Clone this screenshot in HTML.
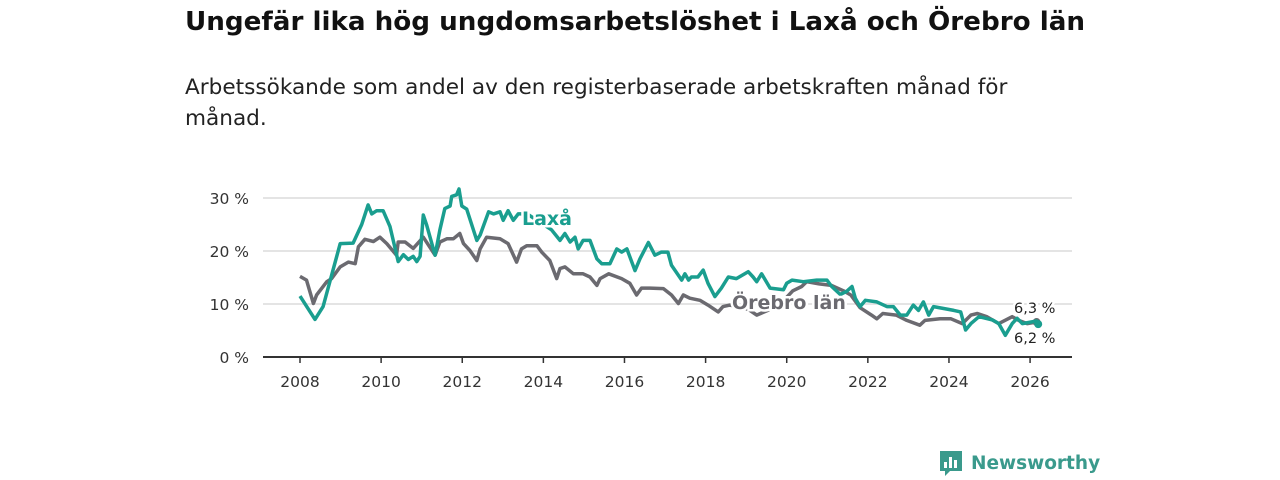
<!DOCTYPE html>
<html><head><meta charset="utf-8"><style>
body{margin:0;width:1280px;height:480px;background:#fff;font-family:"DejaVu Sans","Liberation Sans",sans-serif;overflow:hidden;position:relative}
#title{position:absolute;left:185px;top:7px;font-size:26.2px;font-weight:bold;color:#111;white-space:nowrap}
#sub{position:absolute;left:185px;top:72px;width:880px;font-size:21.6px;line-height:31px;color:#222}
#logo{position:absolute;left:938px;top:449px;display:flex;align-items:center;gap:7px;color:#3a9a8c;font-size:18.5px;font-weight:bold}
</style></head><body>
<div id="title">Ungefär lika hög ungdomsarbetslöshet i Laxå och Örebro län</div>
<div id="sub">Arbetssökande som andel av den registerbaserade arbetskraften månad för månad.</div>
<svg id="chart" width="1280" height="480" style="position:absolute;left:0;top:0"></svg>
<div id="logo"><svg width="26" height="28" viewBox="0 0 26 28"><path d="M2 2h22v20H12l-5 5v-5H2z" fill="#3a9a8c"/><rect x="6" y="13" width="3" height="6" fill="#fff"/><rect x="11" y="8" width="3" height="11" fill="#fff"/><rect x="16" y="11" width="3" height="8" fill="#fff"/></svg><span>Newsworthy</span></div>
<script>
const laxaT=[2008.0,2008.37,2008.57,2008.99,2009.31,2009.52,2009.68,2009.77,2009.89,2010.05,2010.22,2010.42,2010.55,2010.67,2010.79,2010.88,2010.96,2011.04,2011.12,2011.33,2011.45,2011.57,2011.7,2011.74,2011.86,2011.92,2011.99,2012.11,2012.36,2012.44,2012.65,2012.77,2012.93,2013.01,2013.13,2013.26,2013.38,2013.6,2013.9,2014.2,2014.41,2014.53,2014.66,2014.78,2014.86,2014.98,2015.15,2015.32,2015.44,2015.64,2015.81,2015.93,2016.06,2016.26,2016.38,2016.59,2016.75,2016.91,2017.07,2017.16,2017.41,2017.49,2017.58,2017.65,2017.81,2017.94,2018.06,2018.23,2018.39,2018.56,2018.76,2019.05,2019.17,2019.26,2019.38,2019.59,2019.92,2020.0,2020.13,2020.41,2020.74,2020.99,2021.11,2021.32,2021.48,2021.61,2021.69,2021.81,2021.94,2022.22,2022.47,2022.63,2022.8,2022.96,2023.12,2023.25,2023.37,2023.5,2023.62,2024.12,2024.29,2024.41,2024.54,2024.74,2025.07,2025.23,2025.39,2025.56,2025.68,2025.81,2026.16,2026.2];
const laxaV=[11.5,7.1,9.5,21.4,21.5,25,28.7,27,27.6,27.6,24.6,18,19.3,18.4,19,18,19,26.8,25,19.2,24,28,28.5,30.3,30.6,31.7,28.5,27.9,22,23,27.4,27,27.4,25.8,27.6,25.8,27,27,25.5,24,22,23.3,21.7,22.6,20.4,22,22,18.5,17.6,17.6,20.4,19.8,20.4,16.3,18.5,21.6,19.2,19.8,19.8,17.3,14.5,15.7,14.5,15.1,15.1,16.4,13.9,11.4,13,15.1,14.8,16.1,15.1,14.2,15.7,13,12.7,13.9,14.5,14.2,14.5,14.5,13.3,11.8,12.4,13.3,11.1,9.5,10.7,10.4,9.5,9.5,7.9,7.9,9.8,8.8,10.4,7.9,9.5,8.8,8.5,5.1,6.3,7.6,7.0,6.3,4.1,6.3,7.3,6.3,6.8,6.2];
const oreT=[2008.0,2008.16,2008.33,2008.41,2008.66,2008.78,2008.99,2009.19,2009.36,2009.44,2009.6,2009.81,2009.97,2010.14,2010.38,2010.42,2010.59,2010.79,2011.04,2011.33,2011.45,2011.62,2011.78,2011.94,2012.03,2012.19,2012.36,2012.44,2012.6,2012.93,2013.13,2013.34,2013.46,2013.59,2013.84,2013.96,2014.16,2014.33,2014.41,2014.53,2014.74,2014.98,2015.15,2015.32,2015.4,2015.61,2015.93,2016.13,2016.3,2016.42,2016.63,2016.96,2017.16,2017.33,2017.45,2017.61,2017.86,2018.06,2018.31,2018.43,2018.6,2018.8,2019.05,2019.26,2019.6,2019.9,2020.15,2020.37,2020.49,2020.8,2021.1,2021.4,2021.58,2021.81,2022.09,2022.22,2022.37,2022.7,2022.96,2023.28,2023.41,2023.78,2024.05,2024.33,2024.54,2024.7,2024.93,2025.23,2025.56,2025.72,2025.93,2026.16];
const oreV=[15.2,14.5,10.1,11.7,14.2,14.8,17,17.9,17.6,20.8,22.2,21.8,22.6,21.4,19.2,21.7,21.7,20.5,22.6,19.2,21.7,22.3,22.3,23.3,21.4,20.1,18.2,20.4,22.6,22.3,21.4,17.9,20.4,21,21,19.8,18.2,14.8,16.7,17,15.7,15.7,15.1,13.5,14.8,15.7,14.8,13.9,11.7,13,13,12.9,11.7,10.1,11.7,11.1,10.7,9.8,8.5,9.5,9.8,9.5,9,7.9,9,10.5,12.5,13.3,14.2,13.8,13.5,12.5,11.7,9.3,7.9,7.2,8.2,7.9,6.9,6.0,6.9,7.2,7.2,6.3,7.9,8.2,7.6,6.3,7.6,6.9,6.3,6.6];
const yTicks=[0,10,20,30];
const yTickLabels=["0 %","10 %","20 %","30 %"];
const xTicks=[2008,2010,2012,2014,2016,2018,2020,2022,2024,2026];
const svg=document.getElementById('chart');const NS='http://www.w3.org/2000/svg';
const X=t=>300+(t-2008)*40.56, Y=v=>357-v*5.3;
function mk(tag,attrs,parent){const e=document.createElementNS(NS,tag);for(const k in attrs)e.setAttribute(k,attrs[k]);(parent||svg).appendChild(e);return e;}
yTicks.forEach((v,i)=>{
 if(v>0){const g=mk('line',{x1:263,x2:1072,y1:Y(v),y2:Y(v),stroke:'#dcdcdc','stroke-width':1.5});
 
 }
 const t=mk('text',{x:249,y:Y(v)+6,'text-anchor':'end','font-size':15.5,fill:'#333'});t.textContent=yTickLabels[i];
 
 
});
const ax=mk('line',{x1:263,x2:1072,y1:357,y2:357,stroke:'#333','stroke-width':2});


xTicks.forEach(yr=>{
 mk('line',{x1:X(yr),x2:X(yr),y1:357,y2:363,stroke:'#333','stroke-width':1.5});
 const t=mk('text',{x:X(yr),y:387,'text-anchor':'middle','font-size':15.5,fill:'#333'});t.textContent=yr;
 
 
});
function line(T,V,color,name){const d=T.map((t,i)=>(i?'L':'M')+X(t).toFixed(1)+','+Y(V[i]).toFixed(1)).join('');
 const p=mk('path',{d:d,fill:'none',stroke:color,'stroke-width':3.5,'stroke-linejoin':'round'});
 
 
 const c=mk('circle',{cx:X(T[T.length-1]),cy:Y(V[V.length-1]),r:4,fill:color});
 
 }
line(oreT,oreV,'#6b6a70','orebro-line');
line(laxaT,laxaV,'#1a9e8f','laxa-line');
function lab(x,y,txt,color,name,size,w){const t=mk('text',{x:x,y:y,'font-size':size,'font-weight':w,fill:color,stroke:'#fff','stroke-width':5,'paint-order':'stroke'});t.textContent=txt;
 
 }
lab(522,225,'Laxå','#1a9e8f','laxa-label',19,'bold');
lab(732,309,'Örebro län','#6b6a70','orebro-label',19,'bold');
lab(1014,313,'6,3 %','#222','orebro-end-value',14.5,'normal');
lab(1014,343,'6,2 %','#222','laxa-end-value',14.5,'normal');
</script>
</body></html>
